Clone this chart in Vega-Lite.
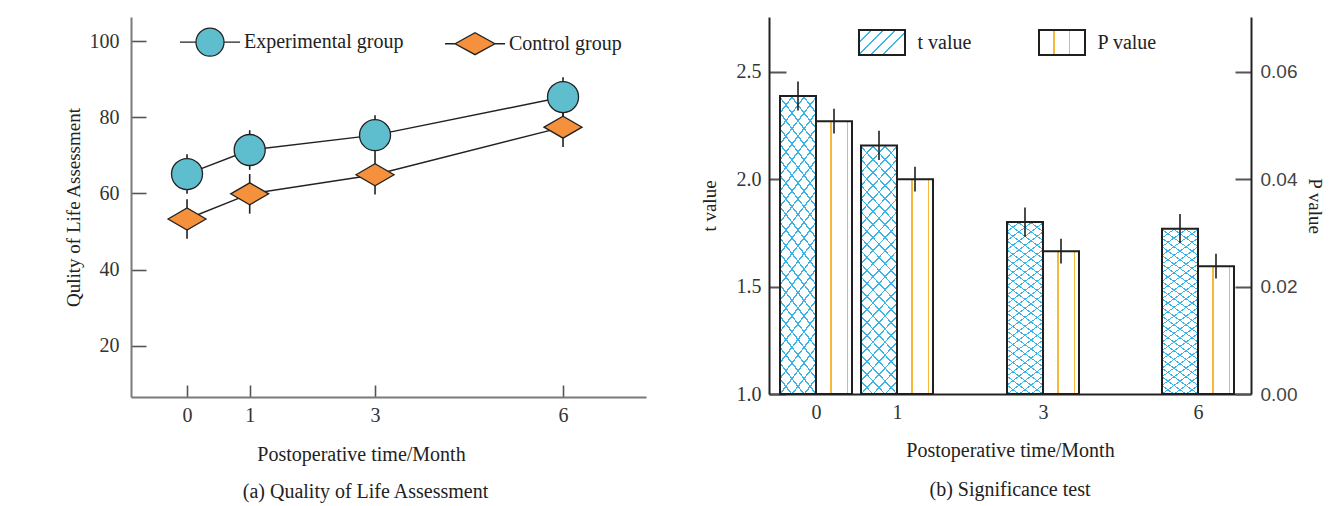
{
  "$schema": "https://vega.github.io/schema/vega-lite/v6.json",
  "background": "white",
  "padding": {"left": 64, "top": 17, "right": 5, "bottom": 5},
  "bounds": "flush",
  "spacing": 123,
  "resolve": {"scale": {"fill": "independent", "shape": "independent", "stroke": "independent"}, "legend": {"fill": "independent", "shape": "independent", "stroke": "independent"}},
  "config": {
    "view": {"stroke": null},
    "font": "Liberation Serif",
    "axis": {"grid": false, "labelFlush": false, "labelFont": "Liberation Serif", "labelFontSize": 20, "labelColor": "#333", "titleFont": "Liberation Serif", "titleFontSize": 19, "titleFontWeight": "normal", "titleColor": "#222", "domainWidth": 2, "tickWidth": 1.6, "tickColor": "#555"}
  },
  "hconcat": [
    {
      "width": 515,
      "height": 380,
      "title": {"text": "(a) Quality of Life Assessment", "orient": "bottom", "offset": 18, "dx": -23, "font": "Liberation Serif", "fontSize": 20, "fontWeight": "normal", "color": "#222"},
      "data": {"values": [
        {"month": 0, "group": "Experimental group", "score": 65.1, "lo": 59.9, "hi": 70.3},
        {"month": 1, "group": "Experimental group", "score": 71.4, "lo": 66.2, "hi": 76.6},
        {"month": 3, "group": "Experimental group", "score": 75.3, "lo": 70.1, "hi": 80.5},
        {"month": 6, "group": "Experimental group", "score": 85.3, "lo": 80.1, "hi": 90.5},
        {"month": 0, "group": "Control group", "score": 53.3, "lo": 48.1, "hi": 58.5},
        {"month": 1, "group": "Control group", "score": 59.9, "lo": 54.7, "hi": 65.1},
        {"month": 3, "group": "Control group", "score": 64.9, "lo": 59.7, "hi": 70.1},
        {"month": 6, "group": "Control group", "score": 77.4, "lo": 72.2, "hi": 82.6}
      ]},
      "layer": [
        {
          "mark": {"type": "line", "color": "#222", "strokeWidth": 1.4},
          "encoding": {
            "x": {"field": "month", "type": "quantitative", "scale": {"domain": [-0.894, 7.324], "nice": false, "zero": false},
              "axis": {"title": "Postoperative time/Month", "values": [0, 1, 3, 6], "domainColor": "#7a7a7a", "tickSize": -12, "labelPadding": 20, "titleFontSize": 20, "titlePadding": 19, "titleX": 230}},
            "y": {"field": "score", "type": "quantitative", "scale": {"domain": [6.6, 106.3], "nice": false, "zero": false},
              "axis": {"title": "Qulity of Life Assessment", "values": [20, 40, 60, 80, 100], "domainColor": "#7a7a7a", "tickSize": -15, "labelPadding": 27, "titlePadding": 6}},
            "detail": {"field": "group"}
          }
        },
        {
          "mark": {"type": "rule", "color": "#222", "strokeWidth": 1.6},
          "encoding": {
            "x": {"field": "month", "type": "quantitative", "scale": {"domain": [-0.894, 7.324], "nice": false, "zero": false},
              "axis": {"title": "Postoperative time/Month", "values": [0, 1, 3, 6], "domainColor": "#7a7a7a", "tickSize": -12, "labelPadding": 20, "titleFontSize": 20, "titlePadding": 19, "titleX": 230}},
            "y": {"field": "lo", "type": "quantitative", "scale": {"domain": [6.6, 106.3], "nice": false, "zero": false},
              "axis": {"title": "Qulity of Life Assessment", "values": [20, 40, 60, 80, 100], "domainColor": "#7a7a7a", "tickSize": -15, "labelPadding": 27, "titlePadding": 6}},
            "y2": {"field": "hi"}
          }
        },
        {
          "transform": [{"filter": {"field": "group", "equal": "Experimental group"}}],
          "mark": {"type": "point", "filled": true, "opacity": 1, "fill": "#5fbecd", "stroke": "#222", "strokeWidth": 1.3, "size": 1444, "shape": "M0.816,0A0.816,0.816,0,1,1,-0.816,0A0.816,0.816,0,1,1,0.816,0Z"},
          "encoding": {
            "x": {"field": "month", "type": "quantitative", "scale": {"domain": [-0.894, 7.324], "nice": false, "zero": false},
              "axis": {"title": "Postoperative time/Month", "values": [0, 1, 3, 6], "domainColor": "#7a7a7a", "tickSize": -12, "labelPadding": 20, "titleFontSize": 20, "titlePadding": 19, "titleX": 230}},
            "y": {"field": "score", "type": "quantitative", "scale": {"domain": [6.6, 106.3], "nice": false, "zero": false},
              "axis": {"title": "Qulity of Life Assessment", "values": [20, 40, 60, 80, 100], "domainColor": "#7a7a7a", "tickSize": -15, "labelPadding": 27, "titlePadding": 6}}
          }
        },
        {
          "transform": [{"filter": {"field": "group", "equal": "Control group"}}],
          "mark": {"type": "point", "filled": true, "opacity": 1, "fill": "#f5913c", "stroke": "#222", "strokeWidth": 1.3, "size": 1444, "shape": "M-1,0L0,-0.58L1,0L0,0.58Z"},
          "encoding": {
            "x": {"field": "month", "type": "quantitative", "scale": {"domain": [-0.894, 7.324], "nice": false, "zero": false},
              "axis": {"title": "Postoperative time/Month", "values": [0, 1, 3, 6], "domainColor": "#7a7a7a", "tickSize": -12, "labelPadding": 20, "titleFontSize": 20, "titlePadding": 19, "titleX": 230}},
            "y": {"field": "score", "type": "quantitative", "scale": {"domain": [6.6, 106.3], "nice": false, "zero": false},
              "axis": {"title": "Qulity of Life Assessment", "values": [20, 40, 60, 80, 100], "domainColor": "#7a7a7a", "tickSize": -15, "labelPadding": 27, "titlePadding": 6}}
          }
        },
        {
          "mark": {"type": "point", "filled": true, "opacity": 0, "strokeWidth": 1.3},
          "encoding": {
            "x": {"field": "month", "type": "quantitative", "scale": {"domain": [-0.894, 7.324], "nice": false, "zero": false},
              "axis": {"title": "Postoperative time/Month", "values": [0, 1, 3, 6], "domainColor": "#7a7a7a", "tickSize": -12, "labelPadding": 20, "titleFontSize": 20, "titlePadding": 19, "titleX": 230}},
            "y": {"field": "score", "type": "quantitative", "scale": {"domain": [6.6, 106.3], "nice": false, "zero": false},
              "axis": {"title": "Qulity of Life Assessment", "values": [20, 40, 60, 80, 100], "domainColor": "#7a7a7a", "tickSize": -15, "labelPadding": 27, "titlePadding": 6}},
            "fill": {"field": "group", "type": "nominal",
              "scale": {"domain": ["Experimental group", "Control group"], "range": ["#5fbecd", "#f5913c"]},
              "legend": {"title": null, "orient": "none", "legendX": 63, "legendY": 9, "direction": "horizontal", "symbolSize": 900, "symbolOpacity": 1, "labelFont": "Liberation Serif", "labelFontSize": 20, "labelColor": "#222", "labelOffset": 18, "columnPadding": 38, "symbolStrokeWidth": 1.3}},
            "shape": {"field": "group", "type": "nominal",
              "scale": {"domain": ["Experimental group", "Control group"], "range": ["M-2,0H-0.933M0.933,0H2M0.933,0A0.933,0.933,0,1,1,-0.933,0A0.933,0.933,0,1,1,0.933,0Z", "M-2,0H-1.33M1.33,0H2M-1.33,0L0,-0.73L1.33,0L0,0.73Z"]},
              "legend": {"title": null, "orient": "none", "legendX": 63, "legendY": 9, "direction": "horizontal", "symbolSize": 900, "symbolOpacity": 1, "labelFont": "Liberation Serif", "labelFontSize": 20, "labelColor": "#222", "labelOffset": 18, "columnPadding": 38, "symbolStrokeWidth": 1.3}},
            "stroke": {"field": "group", "type": "nominal",
              "scale": {"domain": ["Experimental group", "Control group"], "range": ["#222222", "#222222"]},
              "legend": {"title": null, "orient": "none", "legendX": 63, "legendY": 9, "direction": "horizontal", "symbolSize": 900, "symbolOpacity": 1, "labelFont": "Liberation Serif", "labelFontSize": 20, "labelColor": "#222", "labelOffset": 18, "columnPadding": 38, "symbolStrokeWidth": 1.3}}
          }
        }
      ]
    },
    {
      "width": 482,
      "height": 377,
      "title": {"text": "(b) Significance test", "orient": "bottom", "offset": 20, "font": "Liberation Serif", "fontSize": 20, "fontWeight": "normal", "color": "#222"},
      "data": {"values": [
        {"month": 0, "t": 2.388, "t_lo": 2.32, "t_hi": 2.456, "p": 0.0508, "p_lo": 0.0485, "p_hi": 0.0531},
        {"month": 1, "t": 2.158, "t_lo": 2.09, "t_hi": 2.226, "p": 0.04, "p_lo": 0.0377, "p_hi": 0.0423},
        {"month": 3, "t": 1.801, "t_lo": 1.733, "t_hi": 1.869, "p": 0.0266, "p_lo": 0.0243, "p_hi": 0.0289},
        {"month": 6, "t": 1.77, "t_lo": 1.702, "t_hi": 1.838, "p": 0.0238, "p_lo": 0.0215, "p_hi": 0.0261}
      ]},
      "layer": [
        {
          "layer": [
            {
              "mark": {"type": "bar", "width": 36, "xOffset": -18,
                "fill": {"gradient": "linear", "x1": 0, "y1": 0, "x2": 1, "y2": 6.4, "stops": [
                  {"offset": 0, "color": "#3ab3e6"}, {"offset": 0.0011, "color": "#3ab3e6"}, {"offset": 0.0011, "color": "#ffffff"}, {"offset": 0.008, "color": "#ffffff"},
                  {"offset": 0.008, "color": "#3ab3e6"}, {"offset": 0.0091, "color": "#3ab3e6"}, {"offset": 0.0091, "color": "#ffffff"}, {"offset": 0.016, "color": "#ffffff"},
                  {"offset": 0.016, "color": "#3ab3e6"}, {"offset": 0.0171, "color": "#3ab3e6"}, {"offset": 0.0171, "color": "#ffffff"}, {"offset": 0.024, "color": "#ffffff"},
                  {"offset": 0.024, "color": "#3ab3e6"}, {"offset": 0.0251, "color": "#3ab3e6"}, {"offset": 0.0251, "color": "#ffffff"}, {"offset": 0.032, "color": "#ffffff"},
                  {"offset": 0.032, "color": "#3ab3e6"}, {"offset": 0.0331, "color": "#3ab3e6"}, {"offset": 0.0331, "color": "#ffffff"}, {"offset": 0.04, "color": "#ffffff"},
                  {"offset": 0.04, "color": "#3ab3e6"}, {"offset": 0.0411, "color": "#3ab3e6"}, {"offset": 0.0411, "color": "#ffffff"}, {"offset": 0.048, "color": "#ffffff"},
                  {"offset": 0.048, "color": "#3ab3e6"}, {"offset": 0.0491, "color": "#3ab3e6"}, {"offset": 0.0491, "color": "#ffffff"}, {"offset": 0.056, "color": "#ffffff"},
                  {"offset": 0.056, "color": "#3ab3e6"}, {"offset": 0.0571, "color": "#3ab3e6"}, {"offset": 0.0571, "color": "#ffffff"}, {"offset": 0.064, "color": "#ffffff"},
                  {"offset": 0.064, "color": "#3ab3e6"}, {"offset": 0.0651, "color": "#3ab3e6"}, {"offset": 0.0651, "color": "#ffffff"}, {"offset": 0.072, "color": "#ffffff"},
                  {"offset": 0.072, "color": "#3ab3e6"}, {"offset": 0.0731, "color": "#3ab3e6"}, {"offset": 0.0731, "color": "#ffffff"}, {"offset": 0.08, "color": "#ffffff"},
                  {"offset": 0.08, "color": "#3ab3e6"}, {"offset": 0.0811, "color": "#3ab3e6"}, {"offset": 0.0811, "color": "#ffffff"}, {"offset": 0.088, "color": "#ffffff"},
                  {"offset": 0.088, "color": "#3ab3e6"}, {"offset": 0.0891, "color": "#3ab3e6"}, {"offset": 0.0891, "color": "#ffffff"}, {"offset": 0.096, "color": "#ffffff"},
                  {"offset": 0.096, "color": "#3ab3e6"}, {"offset": 0.0971, "color": "#3ab3e6"}, {"offset": 0.0971, "color": "#ffffff"}, {"offset": 0.104, "color": "#ffffff"},
                  {"offset": 0.104, "color": "#3ab3e6"}, {"offset": 0.1051, "color": "#3ab3e6"}, {"offset": 0.1051, "color": "#ffffff"}, {"offset": 0.112, "color": "#ffffff"},
                  {"offset": 0.112, "color": "#3ab3e6"}, {"offset": 0.1131, "color": "#3ab3e6"}, {"offset": 0.1131, "color": "#ffffff"}, {"offset": 0.12, "color": "#ffffff"},
                  {"offset": 0.12, "color": "#3ab3e6"}, {"offset": 0.1211, "color": "#3ab3e6"}, {"offset": 0.1211, "color": "#ffffff"}, {"offset": 0.128, "color": "#ffffff"},
                  {"offset": 0.128, "color": "#3ab3e6"}, {"offset": 0.1291, "color": "#3ab3e6"}, {"offset": 0.1291, "color": "#ffffff"}, {"offset": 0.136, "color": "#ffffff"},
                  {"offset": 0.136, "color": "#3ab3e6"}, {"offset": 0.1371, "color": "#3ab3e6"}, {"offset": 0.1371, "color": "#ffffff"}, {"offset": 0.144, "color": "#ffffff"},
                  {"offset": 0.144, "color": "#3ab3e6"}, {"offset": 0.1451, "color": "#3ab3e6"}, {"offset": 0.1451, "color": "#ffffff"}, {"offset": 0.152, "color": "#ffffff"},
                  {"offset": 0.152, "color": "#3ab3e6"}, {"offset": 0.1531, "color": "#3ab3e6"}, {"offset": 0.1531, "color": "#ffffff"}, {"offset": 0.16, "color": "#ffffff"},
                  {"offset": 0.16, "color": "#3ab3e6"}, {"offset": 0.1611, "color": "#3ab3e6"}, {"offset": 0.1611, "color": "#ffffff"}, {"offset": 0.168, "color": "#ffffff"},
                  {"offset": 0.168, "color": "#3ab3e6"}, {"offset": 0.1691, "color": "#3ab3e6"}, {"offset": 0.1691, "color": "#ffffff"}, {"offset": 0.176, "color": "#ffffff"},
                  {"offset": 0.176, "color": "#3ab3e6"}, {"offset": 0.1771, "color": "#3ab3e6"}, {"offset": 0.1771, "color": "#ffffff"}, {"offset": 1, "color": "#ffffff"}
                ]}},
              "encoding": {
                "x": {"field": "month", "type": "quantitative", "scale": {"type": "linear", "domain": [-0.58, 0, 1, 3, 6, 7.03], "range": [0, 47, 128, 274, 429, 482], "nice": false, "zero": false},
                  "axis": {"title": "Postoperative time/Month", "values": [0, 1, 3, 6], "ticks": false, "domainColor": "#222", "labelPadding": 8, "titleFontSize": 20, "titlePadding": 18}},
                "y": {"field": "t", "type": "quantitative", "scale": {"domain": [1, 2.756], "nice": false, "zero": false},
                  "axis": {"title": "t value", "values": [1, 1.5, 2, 2.5], "format": ".1f", "domainColor": "#222", "tickWidth": 2, "tickSize": -17, "labelPadding": 25, "titlePadding": 17}},
                "y2": {"datum": 1}
              }
            },
            {
              "mark": {"type": "bar", "width": 36, "xOffset": -18, "stroke": "#1f1f1f", "strokeWidth": 2,
                "fill": {"gradient": "linear", "x1": 1, "y1": 0, "x2": 0, "y2": 6.4, "stops": [
                  {"offset": 0, "color": "#3ab3e6"}, {"offset": 0.0011, "color": "#3ab3e6"}, {"offset": 0.0011, "color": "rgba(255,255,255,0)"}, {"offset": 0.008, "color": "rgba(255,255,255,0)"},
                  {"offset": 0.008, "color": "#3ab3e6"}, {"offset": 0.0091, "color": "#3ab3e6"}, {"offset": 0.0091, "color": "rgba(255,255,255,0)"}, {"offset": 0.016, "color": "rgba(255,255,255,0)"},
                  {"offset": 0.016, "color": "#3ab3e6"}, {"offset": 0.0171, "color": "#3ab3e6"}, {"offset": 0.0171, "color": "rgba(255,255,255,0)"}, {"offset": 0.024, "color": "rgba(255,255,255,0)"},
                  {"offset": 0.024, "color": "#3ab3e6"}, {"offset": 0.0251, "color": "#3ab3e6"}, {"offset": 0.0251, "color": "rgba(255,255,255,0)"}, {"offset": 0.032, "color": "rgba(255,255,255,0)"},
                  {"offset": 0.032, "color": "#3ab3e6"}, {"offset": 0.0331, "color": "#3ab3e6"}, {"offset": 0.0331, "color": "rgba(255,255,255,0)"}, {"offset": 0.04, "color": "rgba(255,255,255,0)"},
                  {"offset": 0.04, "color": "#3ab3e6"}, {"offset": 0.0411, "color": "#3ab3e6"}, {"offset": 0.0411, "color": "rgba(255,255,255,0)"}, {"offset": 0.048, "color": "rgba(255,255,255,0)"},
                  {"offset": 0.048, "color": "#3ab3e6"}, {"offset": 0.0491, "color": "#3ab3e6"}, {"offset": 0.0491, "color": "rgba(255,255,255,0)"}, {"offset": 0.056, "color": "rgba(255,255,255,0)"},
                  {"offset": 0.056, "color": "#3ab3e6"}, {"offset": 0.0571, "color": "#3ab3e6"}, {"offset": 0.0571, "color": "rgba(255,255,255,0)"}, {"offset": 0.064, "color": "rgba(255,255,255,0)"},
                  {"offset": 0.064, "color": "#3ab3e6"}, {"offset": 0.0651, "color": "#3ab3e6"}, {"offset": 0.0651, "color": "rgba(255,255,255,0)"}, {"offset": 0.072, "color": "rgba(255,255,255,0)"},
                  {"offset": 0.072, "color": "#3ab3e6"}, {"offset": 0.0731, "color": "#3ab3e6"}, {"offset": 0.0731, "color": "rgba(255,255,255,0)"}, {"offset": 0.08, "color": "rgba(255,255,255,0)"},
                  {"offset": 0.08, "color": "#3ab3e6"}, {"offset": 0.0811, "color": "#3ab3e6"}, {"offset": 0.0811, "color": "rgba(255,255,255,0)"}, {"offset": 0.088, "color": "rgba(255,255,255,0)"},
                  {"offset": 0.088, "color": "#3ab3e6"}, {"offset": 0.0891, "color": "#3ab3e6"}, {"offset": 0.0891, "color": "rgba(255,255,255,0)"}, {"offset": 0.096, "color": "rgba(255,255,255,0)"},
                  {"offset": 0.096, "color": "#3ab3e6"}, {"offset": 0.0971, "color": "#3ab3e6"}, {"offset": 0.0971, "color": "rgba(255,255,255,0)"}, {"offset": 0.104, "color": "rgba(255,255,255,0)"},
                  {"offset": 0.104, "color": "#3ab3e6"}, {"offset": 0.1051, "color": "#3ab3e6"}, {"offset": 0.1051, "color": "rgba(255,255,255,0)"}, {"offset": 0.112, "color": "rgba(255,255,255,0)"},
                  {"offset": 0.112, "color": "#3ab3e6"}, {"offset": 0.1131, "color": "#3ab3e6"}, {"offset": 0.1131, "color": "rgba(255,255,255,0)"}, {"offset": 0.12, "color": "rgba(255,255,255,0)"},
                  {"offset": 0.12, "color": "#3ab3e6"}, {"offset": 0.1211, "color": "#3ab3e6"}, {"offset": 0.1211, "color": "rgba(255,255,255,0)"}, {"offset": 0.128, "color": "rgba(255,255,255,0)"},
                  {"offset": 0.128, "color": "#3ab3e6"}, {"offset": 0.1291, "color": "#3ab3e6"}, {"offset": 0.1291, "color": "rgba(255,255,255,0)"}, {"offset": 0.136, "color": "rgba(255,255,255,0)"},
                  {"offset": 0.136, "color": "#3ab3e6"}, {"offset": 0.1371, "color": "#3ab3e6"}, {"offset": 0.1371, "color": "rgba(255,255,255,0)"}, {"offset": 0.144, "color": "rgba(255,255,255,0)"},
                  {"offset": 0.144, "color": "#3ab3e6"}, {"offset": 0.1451, "color": "#3ab3e6"}, {"offset": 0.1451, "color": "rgba(255,255,255,0)"}, {"offset": 0.152, "color": "rgba(255,255,255,0)"},
                  {"offset": 0.152, "color": "#3ab3e6"}, {"offset": 0.1531, "color": "#3ab3e6"}, {"offset": 0.1531, "color": "rgba(255,255,255,0)"}, {"offset": 0.16, "color": "rgba(255,255,255,0)"},
                  {"offset": 0.16, "color": "#3ab3e6"}, {"offset": 0.1611, "color": "#3ab3e6"}, {"offset": 0.1611, "color": "rgba(255,255,255,0)"}, {"offset": 0.168, "color": "rgba(255,255,255,0)"},
                  {"offset": 0.168, "color": "#3ab3e6"}, {"offset": 0.1691, "color": "#3ab3e6"}, {"offset": 0.1691, "color": "rgba(255,255,255,0)"}, {"offset": 0.176, "color": "rgba(255,255,255,0)"},
                  {"offset": 0.176, "color": "#3ab3e6"}, {"offset": 0.1771, "color": "#3ab3e6"}, {"offset": 0.1771, "color": "rgba(255,255,255,0)"}, {"offset": 1, "color": "rgba(255,255,255,0)"}
                ]}},
              "encoding": {
                "x": {"field": "month", "type": "quantitative", "scale": {"type": "linear", "domain": [-0.58, 0, 1, 3, 6, 7.03], "range": [0, 47, 128, 274, 429, 482], "nice": false, "zero": false},
                  "axis": {"title": "Postoperative time/Month", "values": [0, 1, 3, 6], "ticks": false, "domainColor": "#222", "labelPadding": 8, "titleFontSize": 20, "titlePadding": 18}},
                "y": {"field": "t", "type": "quantitative", "scale": {"domain": [1, 2.756], "nice": false, "zero": false},
                  "axis": {"title": "t value", "values": [1, 1.5, 2, 2.5], "format": ".1f", "domainColor": "#222", "tickWidth": 2, "tickSize": -17, "labelPadding": 25, "titlePadding": 17}},
                "y2": {"datum": 1}
              }
            },
            {
              "mark": {"type": "bar", "width": 36, "xOffset": -18, "opacity": 0, "stroke": "#1f1f1f", "strokeWidth": 2},
              "encoding": {
                "x": {"field": "month", "type": "quantitative", "scale": {"type": "linear", "domain": [-0.58, 0, 1, 3, 6, 7.03], "range": [0, 47, 128, 274, 429, 482], "nice": false, "zero": false},
                  "axis": {"title": "Postoperative time/Month", "values": [0, 1, 3, 6], "ticks": false, "domainColor": "#222", "labelPadding": 8, "titleFontSize": 20, "titlePadding": 18}},
                "y": {"field": "t", "type": "quantitative", "scale": {"domain": [1, 2.756], "nice": false, "zero": false},
                  "axis": {"title": "t value", "values": [1, 1.5, 2, 2.5], "format": ".1f", "domainColor": "#222", "tickWidth": 2, "tickSize": -17, "labelPadding": 25, "titlePadding": 17}},
                "y2": {"datum": 1},
                "fill": {"datum": "t value", "type": "nominal",
                  "scale": {"domain": ["t value", "P value"], "range": [
                    {"expr": "{gradient: 'linear', x1: 0, y1: 0, x2: 1, y2: 0.543, stops: [{offset: 0, color: '#3ab3e6'}, {offset: 0.025, color: '#3ab3e6'}, {offset: 0.025, color: '#ffffff'}, {offset: 0.2, color: '#ffffff'}, {offset: 0.2, color: '#3ab3e6'}, {offset: 0.225, color: '#3ab3e6'}, {offset: 0.225, color: '#ffffff'}, {offset: 0.4, color: '#ffffff'}, {offset: 0.4, color: '#3ab3e6'}, {offset: 0.425, color: '#3ab3e6'}, {offset: 0.425, color: '#ffffff'}, {offset: 0.6, color: '#ffffff'}, {offset: 0.6, color: '#3ab3e6'}, {offset: 0.625, color: '#3ab3e6'}, {offset: 0.625, color: '#ffffff'}, {offset: 0.8, color: '#ffffff'}, {offset: 0.8, color: '#3ab3e6'}, {offset: 0.825, color: '#3ab3e6'}, {offset: 0.825, color: '#ffffff'}, {offset: 1, color: '#ffffff'}]}"},
                    {"expr": "{gradient: 'linear', x1: 0, y1: 0, x2: 1, y2: 0, stops: [{offset: 0, color: '#ffffff'}, {offset: 0.31, color: '#ffffff'}, {offset: 0.31, color: '#f5b83d'}, {offset: 0.345, color: '#f5b83d'}, {offset: 0.345, color: '#ffffff'}, {offset: 0.645, color: '#ffffff'}, {offset: 0.645, color: '#f5b83d'}, {offset: 0.68, color: '#f5b83d'}, {offset: 0.68, color: '#ffffff'}, {offset: 1, color: '#ffffff'}]}"}
                  ]},
                  "legend": {"title": null, "orient": "none", "legendX": 99.5, "legendY": 12, "direction": "horizontal", "symbolType": "M-1.84,-1H1.84V1H-1.84Z", "symbolSize": 625, "symbolOpacity": 1, "symbolStrokeColor": "#1f1f1f", "symbolStrokeWidth": 2, "labelFont": "Liberation Serif", "labelFontSize": 20, "labelColor": "#222", "labelOffset": 22, "columnPadding": 63}
                }
              }
            },
            {
              "mark": {"type": "rule", "xOffset": -18, "color": "#1f1f1f", "strokeWidth": 1.6},
              "encoding": {
                "x": {"field": "month", "type": "quantitative", "scale": {"type": "linear", "domain": [-0.58, 0, 1, 3, 6, 7.03], "range": [0, 47, 128, 274, 429, 482], "nice": false, "zero": false},
                  "axis": {"title": "Postoperative time/Month", "values": [0, 1, 3, 6], "ticks": false, "domainColor": "#222", "labelPadding": 8, "titleFontSize": 20, "titlePadding": 18}},
                "y": {"field": "t_lo", "type": "quantitative", "scale": {"domain": [1, 2.756], "nice": false, "zero": false},
                  "axis": {"title": "t value", "values": [1, 1.5, 2, 2.5], "format": ".1f", "domainColor": "#222", "tickWidth": 2, "tickSize": -17, "labelPadding": 25, "titlePadding": 17}},
                "y2": {"field": "t_hi"}
              }
            }
          ]
        },
        {
          "layer": [
            {
              "mark": {"type": "bar", "width": 36, "xOffset": 18, "stroke": "#1f1f1f", "strokeWidth": 2,
                "fill": {"gradient": "linear", "x1": 0, "y1": 0, "x2": 1, "y2": 0, "stops": [
                  {"offset": 0, "color": "#ffffff"}, {"offset": 0.4, "color": "#ffffff"}, {"offset": 0.4, "color": "#f5b83d"}, {"offset": 0.445, "color": "#f5b83d"}, {"offset": 0.445, "color": "#ffffff"},
                  {"offset": 0.85, "color": "#ffffff"}, {"offset": 0.85, "color": "#f5b83d"}, {"offset": 0.895, "color": "#f5b83d"}, {"offset": 0.895, "color": "#ffffff"}, {"offset": 1, "color": "#ffffff"}
                ]}},
              "encoding": {
                "x": {"field": "month", "type": "quantitative", "scale": {"type": "linear", "domain": [-0.58, 0, 1, 3, 6, 7.03], "range": [0, 47, 128, 274, 429, 482], "nice": false, "zero": false},
                  "axis": {"title": "Postoperative time/Month", "values": [0, 1, 3, 6], "ticks": false, "domainColor": "#222", "labelPadding": 8, "titleFontSize": 20, "titlePadding": 18}},
                "y": {"field": "p", "type": "quantitative", "scale": {"domain": [0, 0.0702], "nice": false, "zero": false},
                  "axis": {"orient": "right", "title": "P value", "values": [0, 0.02, 0.04, 0.06], "format": ".2f", "domainColor": "#222", "tickWidth": 2, "tickSize": -16, "labelPadding": 25, "labelFont": "Liberation Sans", "labelFontSize": 19, "labelColor": "#444", "titlePadding": 8}},
                "y2": {"datum": 0}
              }
            },
            {
              "mark": {"type": "rule", "xOffset": 18, "color": "#1f1f1f", "strokeWidth": 1.6},
              "encoding": {
                "x": {"field": "month", "type": "quantitative", "scale": {"type": "linear", "domain": [-0.58, 0, 1, 3, 6, 7.03], "range": [0, 47, 128, 274, 429, 482], "nice": false, "zero": false},
                  "axis": {"title": "Postoperative time/Month", "values": [0, 1, 3, 6], "ticks": false, "domainColor": "#222", "labelPadding": 8, "titleFontSize": 20, "titlePadding": 18}},
                "y": {"field": "p_lo", "type": "quantitative", "scale": {"domain": [0, 0.0702], "nice": false, "zero": false},
                  "axis": {"orient": "right", "title": "P value", "values": [0, 0.02, 0.04, 0.06], "format": ".2f", "domainColor": "#222", "tickWidth": 2, "tickSize": -16, "labelPadding": 25, "labelFont": "Liberation Sans", "labelFontSize": 19, "labelColor": "#444", "titlePadding": 8}},
                "y2": {"field": "p_hi"}
              }
            }
          ]
        }
      ],
      "resolve": {"scale": {"y": "independent"}}
    }
  ]
}
